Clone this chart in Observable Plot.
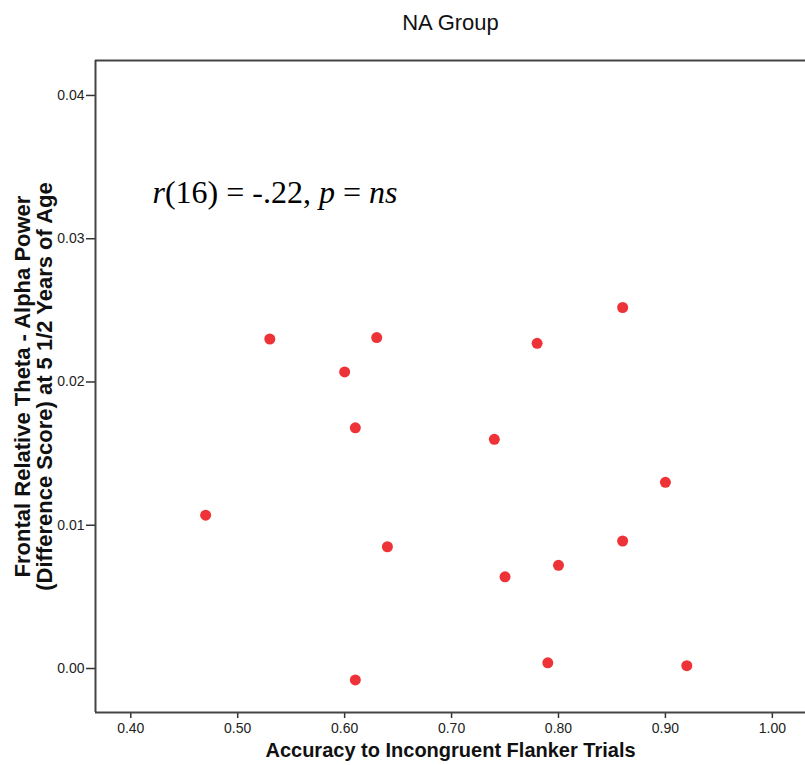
<!DOCTYPE html>
<html>
<head>
<meta charset="utf-8">
<script src="https://cdn.jsdelivr.net/npm/d3@7"></script>
<script src="https://cdn.jsdelivr.net/npm/@observablehq/plot@0.6"></script>
<style>
  html, body { margin: 0; padding: 0; background: #fff; }
  #chart svg { display: block; }
</style>
</head>
<body>
<div id="chart"></div>
<script>
const title = "NA Group";
const xLabel = "Accuracy to Incongruent Flanker Trials";
const yLabelLines = ["Frontal Relative Theta - Alpha Power", "(Difference Score) at 5 1/2 Years of Age"];
const accuracy = [0.47, 0.53, 0.63, 0.60, 0.61, 0.64, 0.61, 0.74, 0.78, 0.86, 0.90, 0.86, 0.75, 0.80, 0.79, 0.92];
const thetaAlpha = [0.0107, 0.0230, 0.0231, 0.0207, 0.0168, 0.0085, -0.0008, 0.0160, 0.0227, 0.0252, 0.0130, 0.0089, 0.0064, 0.0072, 0.0004, 0.0002];
const xTicks = [0.40, 0.50, 0.60, 0.70, 0.80, 0.90, 1.00];
const yTicks = [0.00, 0.01, 0.02, 0.03, 0.04];
const xDomain = [0.367, 1.031];
const yDomain = [-0.00307, 0.04244];

const data = accuracy.map((a, i) => ({x: a, y: thetaAlpha[i]}));
const sans = "'Liberation Sans', Arial, sans-serif";

const plot = Plot.plot({
  width: 805,
  height: 765,
  marginTop: 60,
  marginLeft: 95,
  marginRight: 0,
  marginBottom: 53,
  style: {fontFamily: sans, fontSize: "14px", color: "#222", background: "#fff"},
  x: {domain: xDomain, ticks: xTicks, tickFormat: d3.format(".2f"), label: null},
  y: {domain: yDomain, ticks: yTicks, tickFormat: d3.format(".2f"), label: null},
  marks: [
    Plot.axisX({ticks: xTicks, tickFormat: d3.format(".2f"), tickSize: 6, tickPadding: 5, stroke: "#333", strokeWidth: 1.5, fontSize: 14, label: null}),
    Plot.axisY({ticks: yTicks, tickFormat: d3.format(".2f"), tickSize: 9, tickPadding: 2, stroke: "#333", strokeWidth: 1.5, fontSize: 14, label: null}),
    Plot.ruleX([xDomain[0]], {stroke: "#444", strokeWidth: 2}),
    Plot.ruleY(yDomain, {stroke: "#444", strokeWidth: 2}),
    Plot.dot(data, {x: "x", y: "y", r: 5.5, fill: "#ee3338", stroke: "none"}),
    Plot.text([title], {frameAnchor: "top", dy: -38, lineAnchor: "middle", fontSize: 22, fill: "#111", fontFamily: sans}),
    Plot.text([xLabel], {frameAnchor: "bottom", dy: 38, lineAnchor: "middle", fontSize: 20, fontWeight: "bold", fill: "#111", fontFamily: sans}),
    Plot.text([yLabelLines.join("\n")], {frameAnchor: "left", dx: -62, rotate: -90, textAnchor: "middle", lineAnchor: "middle", fontSize: 22, fontWeight: "bold", fill: "#111", lineHeight: 1.0, fontFamily: sans}),
    Plot.text(["r(16) = -.22, p = ns"], {frameAnchor: "top-left", dx: 57, dy: 132, textAnchor: "start", lineAnchor: "middle", fontSize: 32, fill: "#000", fontFamily: "'Liberation Serif', 'Times New Roman', serif", className: "annot"})
  ]
});

document.getElementById("chart").appendChild(plot);

// Italicize the statistic symbols in the annotation
const annot = d3.select(plot).select(".annot text");
if (!annot.empty()) {
  annot.text(null);
  const parts = [["r", true], ["(16) = -.22, ", false], ["p", true], [" = ", false], ["ns", true]];
  for (const [t, it] of parts) {
    annot.append("tspan").attr("font-style", it ? "italic" : "normal").text(t);
  }
}
</script>
</body>
</html>
